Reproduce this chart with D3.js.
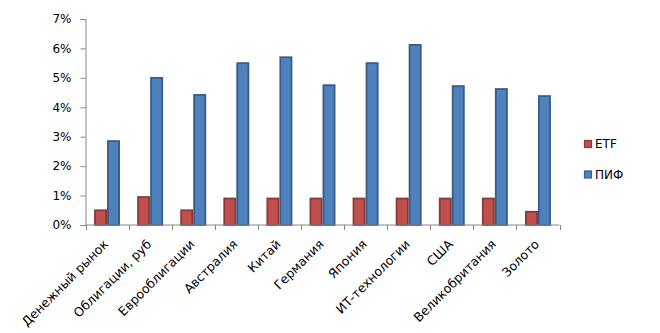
<!DOCTYPE html>
<html>
<head>
<meta charset="utf-8">
<script src="https://cdn.jsdelivr.net/npm/d3@7/dist/d3.min.js"></script>
<style>
  body { margin: 0; background: #fff; }
  svg { display: block; }
  text { font-family: "DejaVu Sans", Verdana, sans-serif; fill: #000; }
</style>
</head>
<body>
<svg id="chart" width="660" height="333"></svg>
<script>
// Fund categories along the x axis
const categories = [
  "Денежный рынок", "Облигации, руб", "Еврооблигации", "Австралия", "Китай",
  "Германия", "Япония", "ИТ-технологии", "США", "Великобритания", "Золото"
];
// Annual fees, percent
const etfValues = [0.5, 0.95, 0.5, 0.9, 0.9, 0.9, 0.9, 0.9, 0.9, 0.9, 0.45];
const pifValues = [2.85, 5.0, 4.42, 5.5, 5.7, 4.75, 5.5, 6.12, 4.72, 4.62, 4.38];
const seriesNames = ["ETF", "ПИФ"];
const yTickValues = [0, 1, 2, 3, 4, 5, 6, 7];

const seriesFill = { "ETF": "#C0504D", "ПИФ": "#4F81BD" };
const seriesStroke = { "ETF": "#8C3836", "ПИФ": "#385D8A" };
const axisColor = "#868686";

const svg = d3.select("#chart");
const plot = { left: 85.5, right: 559.5, top: 19, bottom: 225 };

const x = d3.scaleBand().domain(categories).range([plot.left, plot.right]).padding(0);
const x1 = d3.scaleBand().domain(seriesNames).range([0, x.bandwidth()])
  .paddingInner(0).paddingOuter(0.66);
const y = d3.scaleLinear().domain([0, 7]).range([plot.bottom, plot.top]);

const rows = categories.map((c, i) => ({ category: c, values: [
  { series: "ETF", value: etfValues[i] },
  { series: "ПИФ", value: pifValues[i] }
]}));

// Bars
const groups = svg.append("g").selectAll("g").data(rows).join("g")
  .attr("transform", d => `translate(${x(d.category)},0)`);
groups.selectAll("rect").data(d => d.values).join("rect")
  .attr("x", d => x1(d.series) + 0.9)
  .attr("width", x1.bandwidth() - 1.8)
  .attr("y", d => y(d.value))
  .attr("height", d => y(0) - y(d.value))
  .attr("fill", d => seriesFill[d.series])
  .attr("stroke", d => seriesStroke[d.series])
  .attr("stroke-width", 1.8);

// Y axis
const yAxis = svg.append("g")
  .attr("transform", `translate(${plot.left},0)`)
  .call(d3.axisLeft(y).tickValues(yTickValues).tickSize(5).tickPadding(9)
    .tickFormat(d => d + "%"));
yAxis.select(".domain").attr("stroke", axisColor);
yAxis.selectAll(".tick line").attr("stroke", axisColor);
yAxis.selectAll(".tick text").style("font-size", "12px")
  .style("font-family", "'DejaVu Sans', Verdana, sans-serif").attr("fill", "#000");

// X axis: boundary ticks between categories
const xAxis = svg.append("g").attr("transform", `translate(0,${plot.bottom})`);
xAxis.append("line")
  .attr("x1", plot.left).attr("x2", plot.right)
  .attr("stroke", axisColor);
const boundaries = categories.map(c => x(c)).concat([plot.right]);
xAxis.selectAll("line.tick").data(boundaries).join("line")
  .attr("class", "tick")
  .attr("x1", d => Math.round(d) + 0.5).attr("x2", d => Math.round(d) + 0.5)
  .attr("y1", 0).attr("y2", 5)
  .attr("stroke", axisColor);

// Rotated category labels
xAxis.selectAll("text").data(categories).join("text")
  .attr("text-anchor", "end")
  .attr("transform", d => `translate(${x(d) + x.bandwidth() / 2 + 2},20) rotate(-45)`)
  .style("font-size", "12.5px")
  .text(d => d);

// Legend
const legend = svg.append("g").attr("transform", "translate(584,140)");
const items = legend.selectAll("g").data(seriesNames).join("g")
  .attr("transform", (d, i) => `translate(0,${i * 30.5})`);
items.append("rect")
  .attr("x", 0.5).attr("y", 0.5).attr("width", 7).attr("height", 7)
  .attr("fill", d => seriesFill[d])
  .attr("stroke", d => seriesStroke[d])
  .attr("stroke-width", 1.2);
items.append("text")
  .attr("x", 11).attr("y", 8)
  .style("font-size", "12px")
  .text(d => d);
</script>
</body>
</html>
